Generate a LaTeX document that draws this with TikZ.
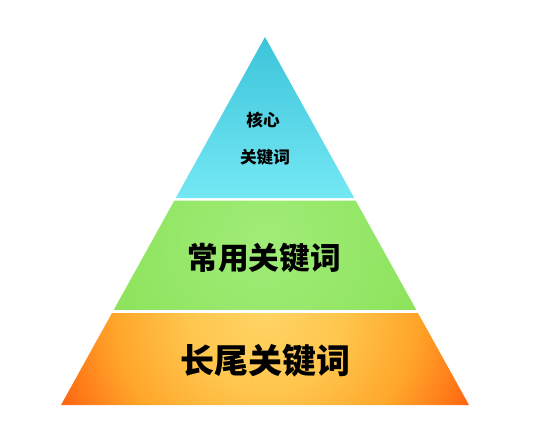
\documentclass[tikz,border=0pt]{standalone}
\usepackage{fontspec}
\newfontfamily\cjk{Noto Sans CJK SC}
\usetikzlibrary{calc}
\definecolor{cyantop}{HTML}{3CC4DA}
\definecolor{cyanbot}{HTML}{74E8F4}
\definecolor{greenin}{HTML}{A0EC78}
\definecolor{greenout}{HTML}{82DE4C}
\pgfdeclareradialshading{orangeglow}{\pgfpoint{0bp}{0bp}}{%
    color(0bp)=(rgb,255:red,255;green,212;blue,100);
    color(8bp)=(rgb,255:red,255;green,198;blue,78);
    color(16bp)=(rgb,255:red,255;green,166;blue,42);
    color(21bp)=(rgb,255:red,255;green,124;blue,26);
    color(25bp)=(rgb,255:red,255;green,88;blue,14);
    color(50bp)=(rgb,255:red,255;green,88;blue,14)}

\begin{document}
\begin{tikzpicture}[x=0.75pt,y=-0.75pt]
    \useasboundingbox (0,0) rectangle (534,426);
    \pgfmathsetmacro{\ta}{0.4375};
    \pgfmathsetmacro{\tb}{0.4443};
    \pgfmathsetmacro{\tc}{0.7418};
    \pgfmathsetmacro{\td}{0.75};
    \coordinate (A) at (265,37);
    \coordinate (BL) at (61,405);
    \coordinate (BR) at (469,405);

    % top layer
    \shade[top color=cyantop,bottom color=cyanbot] (A) -- ($(A)!\ta!(BL)$) -- ($(A)!\ta!(BR)$) -- cycle;

    % middle layer
    \begin{scope}
        \clip ($(A)!\tb!(BL)$) -- ($(A)!\tc!(BL)$) -- ($(A)!\tc!(BR)$) -- ($(A)!\tb!(BR)$) -- cycle;
        \shade[inner color=greenin,outer color=greenout] (265,240) circle (260);
    \end{scope}

    % bottom layer
    \begin{scope}
        \clip ($(A)!\td!(BL)$) -- (BL) -- (BR) -- ($(A)!\td!(BR)$) -- cycle;
        \shade[shading=orangeglow] (265,315) circle (235);
    \end{scope}

    \node[font=\cjk\bfseries\fontsize{12.5}{14}\selectfont] (core1) at (263,120) {核心};
    \node[font=\cjk\bfseries\fontsize{12.5}{14}\selectfont] (core2) at (265,157) {关键词};
    \node[font=\cjk\bfseries\fontsize{23}{26}\selectfont] (common) at (264,258) {常用关键词};
    \node[font=\cjk\bfseries\fontsize{25.5}{28}\selectfont] (longtail) at (265,361) {长尾关键词};
\end{tikzpicture}
\end{document}
